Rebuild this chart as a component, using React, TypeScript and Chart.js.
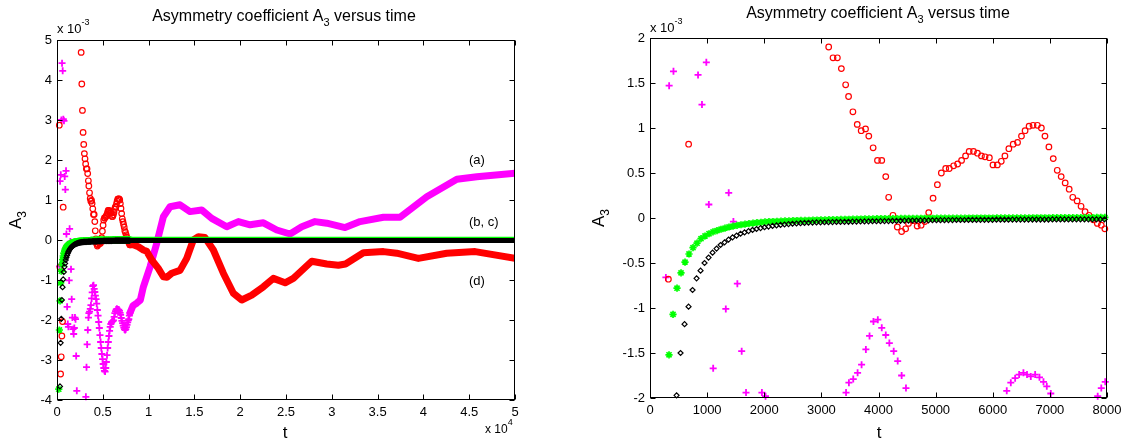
import React, { useEffect, useRef } from "react";
import { Chart, registerables } from "chart.js";
Chart.register(...registerables);

// ---------- data (values in units of 1e-3) ----------
const magT = [278,335,411,481,551,621,691,761,841,910,986,1030,1106,1176,1246,1327,1378,1460,1529,1605,1681,1750,1820,1890,1959,2022,2092,2162,3152,3222,3292,3362,3432,3482,3558,3634,3704,3779,3843,3912,3988,4057,4127,4190,4266,4336,4405,4481,4551,4621,4691,4761,4831,4901,4971,5041,5111,5181,5251,5321,5391,5461,5531,5601,5671,5741,5811,5881,5951,6021,6091,6161,6245,6316,6392,6462,6537,6600,6666,6742,6818,6888,6946,7016,7086,7156,7226,7296,7366,7436,7506,7576,7646,7716,7786,7837,7900,7969];
const magV = [-0.66,1.47,1.63,3.0,4.42,4.23,3.02,2.98,1.59,1.26,1.73,0.15,-1.67,-2.1,-2.17,-1.01,0.28,-0.04,-0.73,-1.48,-1.94,-2.23,-2.35,-2.2,-1.94,-1.98,-2.9,-3.77,-3.92,-3.18,-2.61,-2.25,-1.94,-1.83,-1.79,-1.72,-1.63,-1.46,-1.31,-1.15,-1.13,-1.22,-1.3,-1.39,-1.48,-1.59,-1.75,-1.89,-2.05,-2.2,-2.38,-2.55,-2.7,-2.85,-2.98,-3.1,-3.2,-3.27,-3.29,-3.2,-3.05,-2.88,-2.7,-2.55,-2.4,-2.27,-2.17,-2.1,-2.06,-2.04,-2.03,-2.01,-1.92,-1.83,-1.78,-1.74,-1.72,-1.74,-1.76,-1.74,-1.77,-1.82,-1.87,-1.95,-2.02,-2.08,-2.14,-2.19,-2.23,-2.25,-2.23,-2.18,-2.12,-2.06,-2.01,-1.98,-1.89,-1.82];
const magLateT = [7969,8300,8700,9100,9430,10160,10890,11610,12340,13430,14520,15800,16890,18530,19800,21080,22530,23990,25440,26720,28170,29450,31450,33090,35640,37450,40370,43650,45830,50000];
const magLateV = [-1.82,-1.64,-1.58,-1.5,-1.17,-0.67,-0.08,0.58,0.83,0.88,0.71,0.75,0.54,0.33,0.46,0.38,0.43,0.25,0.15,0.33,0.46,0.42,0.31,0.46,0.57,0.57,1.08,1.52,1.58,1.67];

const redT = [252,322,392,462,532,602,676,2638,2708,2778,2848,2918,2988,3058,3128,3204,3280,3350,3425,3476,3552,3628,3697,3773,3830,3906,3982,4057,4127,4178,4253,4329,4405,4475,4525,4601,4677,4746,4810,4879,4955,5031,5100,5176,5239,5315,5385,5454,5524,5587,5663,5732,5802,5865,5941,6004,6080,6149,6213,6282,6358,6434,6503,6566,6636,6705,6781,6851,6914,6983,7059,7129,7198,7268,7338,7401,7477,7546,7616,7685,7761,7831,7900,7962];
const redV = [2.87,-0.68,-3.35,-2.92,-2.4,-2.04,0.82,4.69,3.9,3.24,2.69,2.39,2.16,2.03,1.9,1.78,1.78,1.66,1.48,1.35,1.18,1.04,0.97,0.99,0.91,0.78,0.64,0.64,0.46,0.23,0.03,-0.1,-0.15,-0.12,-0.06,-0.03,-0.09,-0.08,-0.04,0.06,0.22,0.37,0.5,0.55,0.55,0.58,0.6,0.64,0.69,0.74,0.74,0.72,0.69,0.68,0.67,0.59,0.59,0.63,0.69,0.77,0.82,0.84,0.91,0.97,1.02,1.03,1.03,1.0,0.91,0.79,0.66,0.53,0.46,0.39,0.32,0.23,0.19,0.13,0.07,0.03,-0.02,-0.06,-0.08,-0.12];
const redLateT = [7962,8330,8880,9430,9790,10340,11060,11610,12000,12520,13430,14160,14880,15430,16160,17070,18160,19250,20170,21260,22530,23620,24900,25800,26170,27810,29450,30720,31500,33450,35640,37090,39450,42550,45650,50000];
const redLateV = [-0.12,-0.12,-0.17,-0.25,-0.28,-0.5,-0.71,-0.92,-0.93,-0.83,-0.76,-0.46,0.0,0.08,0.06,-0.25,-0.83,-1.33,-1.5,-1.38,-1.17,-0.96,-1.07,-0.96,-0.88,-0.53,-0.6,-0.63,-0.6,-0.32,-0.29,-0.33,-0.46,-0.33,-0.29,-0.46];

const blackT = [325,395,465,535,605,675,745,815,885,955,1025,1095,1165,1235,1305,1375,1445,1515,1585,1655,1725,1795,1865,1935,2005,2075,2145,2215,2285,2355,2425,2495,2565,2635,2705,2775,2845,2915,2985,3055,3125,3195,3265,3335,3405,3475,3545,3615,3685,3755,3825,3895,3965,4035,4105,4175,4245,4315,4385,4455,4525,4595,4665,4735,4805,4875,4945,5015,5085,5155,5225,5295,5365,5435,5505,5575,5645,5715,5785,5855,5925,5995,6065,6135,6205,6275,6345,6415,6485,6555,6625,6695,6765,6835,6905,6975,7045,7115,7185,7255,7325,7395,7465,7535,7605,7675,7745,7815,7885,7955];
const blackV = [-3.66,-2.57,-1.97,-1.5,-1.18,-0.985,-0.8,-0.67,-0.585,-0.5,-0.44,-0.385,-0.34,-0.3,-0.27,-0.24,-0.215,-0.195,-0.175,-0.16,-0.145,-0.133,-0.122,-0.112,-0.103,-0.095,-0.088,-0.082,-0.077,-0.072,-0.068,-0.064,-0.061,-0.058,-0.055,-0.053,-0.051,-0.049,-0.048,-0.047,-0.046,-0.045,-0.044,-0.044,-0.043,-0.042,-0.041,-0.04,-0.039,-0.038,-0.037,-0.036,-0.036,-0.035,-0.034,-0.034,-0.033,-0.032,-0.031,-0.03,-0.029,-0.028,-0.028,-0.027,-0.026,-0.026,-0.025,-0.025,-0.024,-0.024,-0.023,-0.023,-0.022,-0.022,-0.022,-0.021,-0.021,-0.021,-0.02,-0.02,-0.02,-0.02,-0.019,-0.019,-0.019,-0.019,-0.018,-0.018,-0.018,-0.018,-0.018,-0.017,-0.017,-0.017,-0.017,-0.017,-0.016,-0.016,-0.016,-0.016,-0.016,-0.016,-0.015,-0.015,-0.015,-0.015,-0.015,-0.015,-0.015,-0.015];
const blackLateT = [7955, 50000];
const blackLateV = [-0.015, -0.01];

const greenT = [193,263,333,403,473,543,613,683,753,823,893,963,1033,1103,1173,1243,1313,1383,1453,1523,1593,1663,1733,1803,1873,1943,2013,2083,2153,2223,2293,2363,2433,2503,2573,2643,2713,2783,2853,2923,2993,3063,3133,3203,3273,3343,3413,3483,3553,3623,3693,3763,3833,3903,3973,4043,4113,4183,4253,4323,4393,4463,4533,4603,4673,4743,4813,4883,4953,5023,5093,5163,5233,5303,5373,5443,5513,5583,5653,5723,5793,5863,5933,6003,6073,6143,6213,6283,6353,6423,6493,6563,6633,6703,6773,6843,6913,6983,7053,7123,7193,7263,7333,7403,7473,7543,7613,7683,7753,7823,7893,7963];
const greenV = [-3.73,-2.25,-1.52,-1.07,-0.78,-0.61,-0.49,-0.4,-0.33,-0.28,-0.23,-0.2,-0.175,-0.155,-0.14,-0.125,-0.112,-0.1,-0.09,-0.082,-0.075,-0.068,-0.062,-0.057,-0.052,-0.048,-0.044,-0.041,-0.039,-0.037,-0.035,-0.033,-0.031,-0.029,-0.028,-0.027,-0.026,-0.025,-0.023,-0.022,-0.021,-0.02,-0.019,-0.018,-0.017,-0.016,-0.015,-0.014,-0.013,-0.012,-0.011,-0.01,-0.009,-0.009,-0.008,-0.008,-0.007,-0.007,-0.006,-0.006,-0.005,-0.005,-0.005,-0.004,-0.004,-0.004,-0.003,-0.003,-0.003,-0.002,-0.002,-0.002,-0.002,-0.001,-0.001,-0.001,-0.001,0,0,0,0,0,0,0,0.001,0.001,0.001,0.001,0.002,0.002,0.002,0.002,0.002,0.003,0.003,0.003,0.003,0.003,0.004,0.004,0.004,0.004,0.004,0.005,0.005,0.005,0.005,0.005,0.005,0.006,0.006,0.006];
const greenLateT = [7963, 50000];
const greenLateV = [0.02, 0.02];

const leftXTicks = [0, 5000, 10000, 15000, 20000, 25000, 30000, 35000, 40000, 45000, 50000];
const rightXTicks = [0, 1000, 2000, 3000, 4000, 5000, 6000, 7000, 8000];

// ---------- drawing helpers ----------
const FONT = '"Liberation Sans", Arial, Helvetica, sans-serif';
const MAG = "#ff00ff";
const RED = "#ff0000";
const GRN = "#00ff00";
const BLK = "#000000";

type Seg = { text: string; size: number; dy?: number };

function rich(ctx: CanvasRenderingContext2D, segs: Seg[], x: number, y: number, align: "left" | "center") {
  const widths = segs.map((s) => {
    ctx.font = `${s.size}px ${FONT}`;
    return ctx.measureText(s.text).width;
  });
  const total = widths.reduce((a, b) => a + b, 0);
  let cx = align === "center" ? x - total / 2 : x;
  ctx.textAlign = "left";
  ctx.textBaseline = "alphabetic";
  segs.forEach((s, i) => {
    ctx.font = `${s.size}px ${FONT}`;
    ctx.fillText(s.text, cx, y + (s.dy || 0));
    cx += widths[i];
  });
}

function pts(ts: number[], vs: number[], xr: number[], yr: number[]) {
  const out: { x: number; y: number }[] = [];
  for (let i = 0; i < ts.length; i++) {
    const x = ts[i], y = vs[i];
    if (x < xr[0] || x > xr[1] || y < yr[0] || y > yr[1]) continue;
    out.push({ x, y });
  }
  return out;
}

function linePts(ts: number[], vs: number[]) {
  return ts.map((x, i) => ({ x, y: vs[i] }));
}

type Overlay = {
  title: [number, number];
  exp: [number, number];
  ylab: [number, number];
  xlab: [number, number];
  xexp?: [number, number];
  notes?: [string, number, number][];
};

function overlayPlugin(o: Overlay) {
  return {
    id: "overlay",
    afterDraw(chart: any) {
      const ctx: CanvasRenderingContext2D = chart.ctx;
      const { left, right, top, bottom } = chart.chartArea;
      const xs = chart.scales.x;
      const ys = chart.scales.y;
      ctx.save();
      ctx.strokeStyle = "#000";
      ctx.lineWidth = 1;
      const L = Math.round(left) + 0.5, R = Math.round(right) - 0.5;
      const T = Math.round(top) + 0.5, B = Math.round(bottom) - 0.5;
      ctx.strokeRect(L, T, R - L, B - T);
      ctx.beginPath();
      xs.ticks.forEach((t: any) => {
        const px = Math.round(xs.getPixelForValue(t.value)) + 0.5;
        ctx.moveTo(px, B); ctx.lineTo(px, B - 5);
        ctx.moveTo(px, T); ctx.lineTo(px, T + 5);
      });
      ys.ticks.forEach((t: any) => {
        const py = Math.round(ys.getPixelForValue(t.value)) + 0.5;
        ctx.moveTo(L, py); ctx.lineTo(L + 5, py);
        ctx.moveTo(R, py); ctx.lineTo(R - 5, py);
      });
      ctx.stroke();

      ctx.fillStyle = "#000";
      rich(ctx, [
        { text: "Asymmetry coefficient A", size: 16 },
        { text: "3", size: 11, dy: 5 },
        { text: " versus time", size: 16 },
      ], o.title[0], o.title[1], "center");
      rich(ctx, [
        { text: "x 10", size: 13 },
        { text: "-3", size: 9, dy: -8 },
      ], o.exp[0], o.exp[1], "left");
      ctx.save();
      ctx.translate(o.ylab[0], o.ylab[1]);
      ctx.rotate(-Math.PI / 2);
      rich(ctx, [
        { text: "A", size: 17 },
        { text: "3", size: 12, dy: 5 },
      ], 0, 0, "center");
      ctx.restore();
      rich(ctx, [{ text: "t", size: 17 }], o.xlab[0], o.xlab[1], "center");
      if (o.xexp) {
        rich(ctx, [
          { text: "x 10", size: 12 },
          { text: "4", size: 9, dy: -8 },
        ], o.xexp[0], o.xexp[1], "left");
      }
      if (o.notes) {
        ctx.font = `13px ${FONT}`;
        ctx.textAlign = "left";
        ctx.textBaseline = "middle";
        o.notes.forEach(([s, x, y]) => ctx.fillText(s, x, y));
      }
      ctx.restore();
    },
  };
}

function buildConfig(isL: boolean): any {
  const xr = isL ? [0, 50000] : [0, 8000];
  const yr = isL ? [-4, 5] : [-2, 2];
  const xTicks = isL ? leftXTicks : rightXTicks;
  const hollow = "rgba(0,0,0,0)";
  const datasets: any[] = [
    {
      data: pts(blackT, blackV, xr, yr), order: 1, clip: false, showLine: false,
      pointStyle: "rectRot", pointRadius: 2.5, pointBorderWidth: 1.2,
      pointBorderColor: BLK, pointBackgroundColor: hollow, borderColor: BLK,
    },
    {
      data: pts(greenT, greenV, xr, yr), order: 2, clip: false, showLine: false,
      pointStyle: "star", pointRadius: 3.6, pointBorderWidth: 1.7,
      pointBorderColor: GRN, pointBackgroundColor: GRN, borderColor: GRN,
    },
    {
      data: pts(redT, redV, xr, yr), order: 3, clip: false, showLine: false,
      pointStyle: "circle", pointRadius: 2.8, pointBorderWidth: 1.2,
      pointBorderColor: RED, pointBackgroundColor: hollow, borderColor: RED,
    },
    {
      data: pts(magT, magV, xr, yr), order: 4, clip: false, showLine: false,
      pointStyle: "cross", pointRadius: 3.5, pointBorderWidth: 1.8,
      pointBorderColor: MAG, pointBackgroundColor: MAG, borderColor: MAG,
    },
  ];
  if (isL) {
    datasets.push(
      { data: linePts(blackLateT, blackLateV), order: 1, showLine: true, pointRadius: 0, borderWidth: 5, borderColor: BLK },
      { data: linePts(greenLateT, greenLateV), order: 2, showLine: true, pointRadius: 0, borderWidth: 5, borderColor: GRN },
      { data: linePts(redLateT, redLateV), order: 3, showLine: true, pointRadius: 0, borderWidth: 7, borderColor: RED, borderJoinStyle: "round", borderCapStyle: "round" },
      { data: linePts(magLateT, magLateV), order: 4, showLine: true, pointRadius: 0, borderWidth: 7, borderColor: MAG, borderJoinStyle: "round", borderCapStyle: "round" },
    );
  }
  const ov: Overlay = isL
    ? {
        title: [284, 21], exp: [57, 33], ylab: [21, 220], xlab: [285, 438], xexp: [485, 433],
        notes: [["(a)", 469, 160], ["(b, c)", 469, 222], ["(d)", 469, 281]],
      }
    : { title: [313, 18], exp: [85, 32], ylab: [39, 218], xlab: [314, 438] };
  return {
    type: "scatter",
    data: { datasets },
    options: {
      animation: false,
      responsive: true,
      maintainAspectRatio: false,
      events: [],
      layout: { padding: { left: 0, top: isL ? 40 : 38, right: isL ? 50 : 22, bottom: 0 } },
      plugins: { legend: { display: false }, tooltip: { enabled: false }, title: { display: false } },
      scales: {
        x: {
          type: "linear", min: xr[0], max: xr[1],
          afterFit: (s: any) => { s.height = isL ? 45 : 47; },
          afterBuildTicks: (s: any) => { s.ticks = xTicks.map((v) => ({ value: v })); },
          grid: { display: false, drawTicks: false },
          border: { display: false },
          ticks: {
            autoSkip: false, maxRotation: 0, padding: 5, color: "#000",
            font: { family: FONT, size: 13 },
            callback: (v: number) => (isL ? String(v / 10000) : String(v)),
          },
        },
        y: {
          type: "linear", min: yr[0], max: yr[1],
          afterFit: (s: any) => { s.width = isL ? 57 : 85; },
          grid: { display: false, drawTicks: false },
          border: { display: false },
          ticks: {
            stepSize: isL ? 1 : 0.5, padding: 5, color: "#000",
            font: { family: FONT, size: 13 },
            callback: (v: number) => String(v),
          },
        },
      },
    },
    plugins: [overlayPlugin(ov)],
  };
}

export default function App() {
  const leftRef = useRef<HTMLCanvasElement>(null);
  const rightRef = useRef<HTMLCanvasElement>(null);
  useEffect(() => {
    const c1 = new Chart(leftRef.current as HTMLCanvasElement, buildConfig(true));
    const c2 = new Chart(rightRef.current as HTMLCanvasElement, buildConfig(false));
    return () => {
      c1.destroy();
      c2.destroy();
    };
  }, []);
  return (
    <div style={{ position: "absolute", left: 0, top: 0, width: 1129, height: 445, background: "#fff" }}>
      <div style={{ position: "absolute", left: 0, top: 0, width: 565, height: 445 }}>
        <canvas ref={leftRef} />
      </div>
      <div style={{ position: "absolute", left: 565, top: 0, width: 564, height: 445 }}>
        <canvas ref={rightRef} />
      </div>
    </div>
  );
}
